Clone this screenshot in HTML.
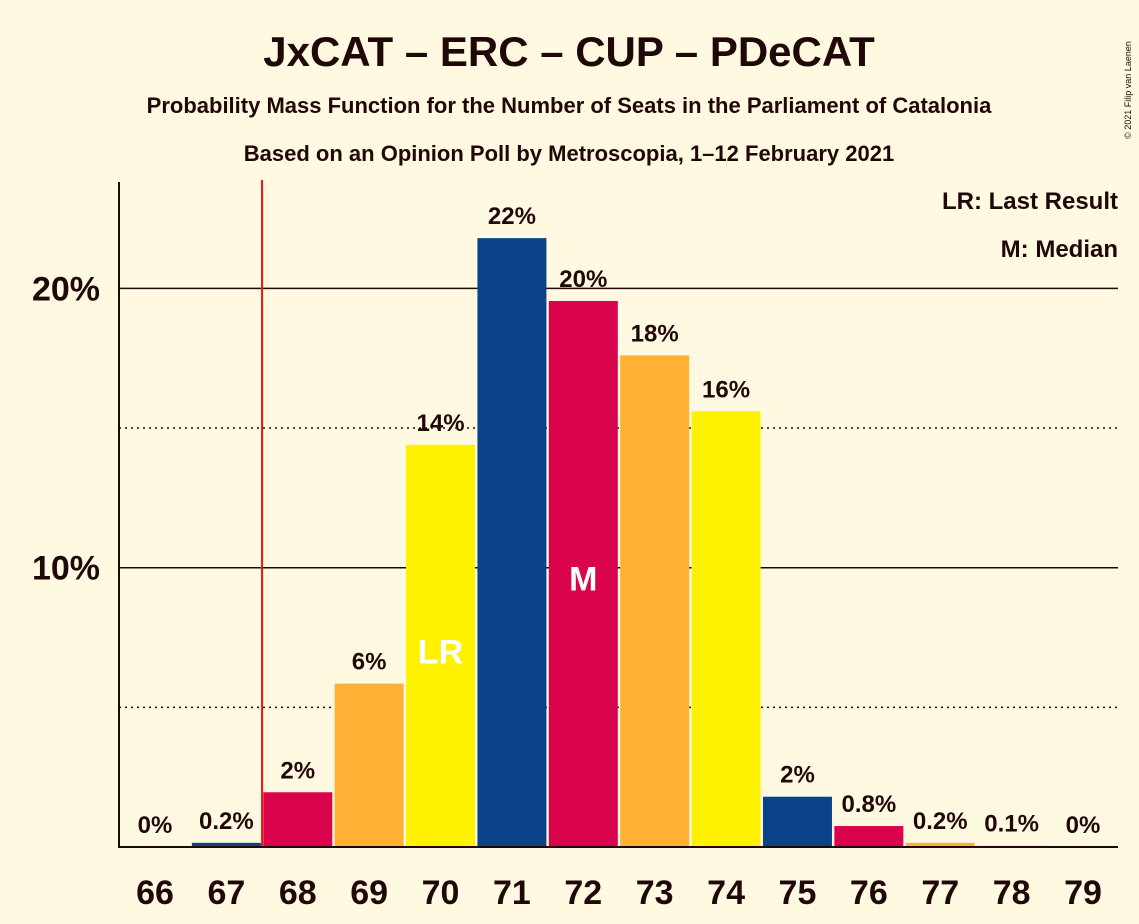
<!DOCTYPE html>
<html><head><meta charset="utf-8"><style>
body{margin:0;background:#fff9e2;}
svg{display:block;font-family:"Liberation Sans",sans-serif;}
</style></head><body>
<svg id="chart" width="1139" height="924" viewBox="0 0 1139 924">
<rect x="0" y="0" width="1139" height="924" fill="#fff9e2"/>
<text x="569" y="66" text-anchor="middle" font-size="42" font-weight="bold" fill="#200808">JxCAT – ERC – CUP – PDeCAT</text>
<text x="569" y="113" text-anchor="middle" font-size="22" font-weight="bold" fill="#200808">Probability Mass Function for the Number of Seats in the Parliament of Catalonia</text>
<text x="569" y="161" text-anchor="middle" font-size="22" font-weight="bold" fill="#200808">Based on an Opinion Poll by Metroscopia, 1–12 February 2021</text>
<text x="1131" y="90" font-size="9" fill="#200808" transform="rotate(-90 1131 90)" text-anchor="middle">© 2021 Filip van Laenen</text>
<text x="1118" y="209" text-anchor="end" font-size="24" font-weight="bold" fill="#200808">LR: Last Result</text>
<text x="1118" y="257" text-anchor="end" font-size="24" font-weight="bold" fill="#200808">M: Median</text>
<g id="grid"></g>
<g id="bars"></g>
<g id="labels"></g>
</svg>
<script>
const seats = [66,67,68,69,70,71,72,73,74,75,76,77,78,79];
const probs = [0,0.15,1.96,5.85,14.4,21.8,19.55,17.6,15.6,1.8,0.75,0.15,0.05,0];
const valueLabels = ["0%","0.2%","2%","6%","14%","22%","20%","18%","16%","2%","0.8%","0.2%","0.1%","0%"];
const colors = ["#0a438a","#0a438a","#d9044b","#ffb035","#fff200","#0a438a","#d9044b","#ffb035","#fff200","#0a438a","#d9044b","#ffb035","#fff200","#0a438a"];
const yTicks = [10,20];
const yMinor = [5,15];
const lastResult = 67.5;
const medianSeat = 72;
const lrSeat = 70;

const NS="http://www.w3.org/2000/svg";
const x0=155, pitch=71.385, bw=69, base=847, unit=27.93, axisX=119, right=1118;
const X=s=>x0+(s-seats[0])*pitch;
const Y=v=>base-v*unit;
function mk(tag,attrs,parent){const e=document.createElementNS(NS,tag);for(const k in attrs)e.setAttribute(k,attrs[k]);parent.appendChild(e);return e;}
const grid=document.getElementById('grid'), bars=document.getElementById('bars'), labels=document.getElementById('labels');
yMinor.forEach(v=>{const l=mk('line',{x1:axisX,x2:right,y1:Y(v),y2:Y(v),stroke:'#200808','stroke-width':1.5,'stroke-dasharray':'2,4'},grid);

});
yTicks.forEach(v=>{const l=mk('line',{x1:axisX,x2:right,y1:Y(v),y2:Y(v),stroke:'#200808','stroke-width':1.5},grid);


const t=mk('text',{x:100,y:Y(v)+12,'text-anchor':'end','font-size':34,'font-weight':'bold',fill:'#200808'},grid);t.textContent=v+'%';

});
seats.forEach((s,i)=>{
 const h=probs[i]*unit;
 if(h>0){const r=mk('rect',{x:X(s)-bw/2,y:Y(probs[i]),width:bw,height:h,fill:colors[i]},bars);
 
 }
 const t=mk('text',{x:X(s),y:Y(probs[i])-14,'text-anchor':'middle','font-size':24,'font-weight':'bold',fill:'#200808'},labels);t.textContent=valueLabels[i];
 
 
 const xt=mk('text',{x:X(s),y:904,'text-anchor':'middle','font-size':34,'font-weight':'bold',fill:'#200808'},labels);xt.textContent=s;
 
 
});
const lr=mk('line',{x1:X(lastResult),x2:X(lastResult),y1:180,y2:base,stroke:'#ee1111','stroke-width':2},bars);


const mi=seats.indexOf(medianSeat);
const m=mk('text',{x:X(medianSeat),y:Y(10)+23,'text-anchor':'middle','font-size':34,'font-weight':'bold',fill:'#ffffff'},labels);m.textContent='M';


const l2=mk('text',{x:X(lrSeat),y:Y(7)+12,'text-anchor':'middle','font-size':34,'font-weight':'bold',fill:'#ffffff'},labels);l2.textContent='LR';


const ax=mk('line',{x1:axisX,x2:axisX,y1:182,y2:base+1,stroke:'#200808','stroke-width':2},labels);


const bx=mk('line',{x1:axisX,x2:right,y1:base,y2:base,stroke:'#200808','stroke-width':2},labels);


</script>
</body></html>
